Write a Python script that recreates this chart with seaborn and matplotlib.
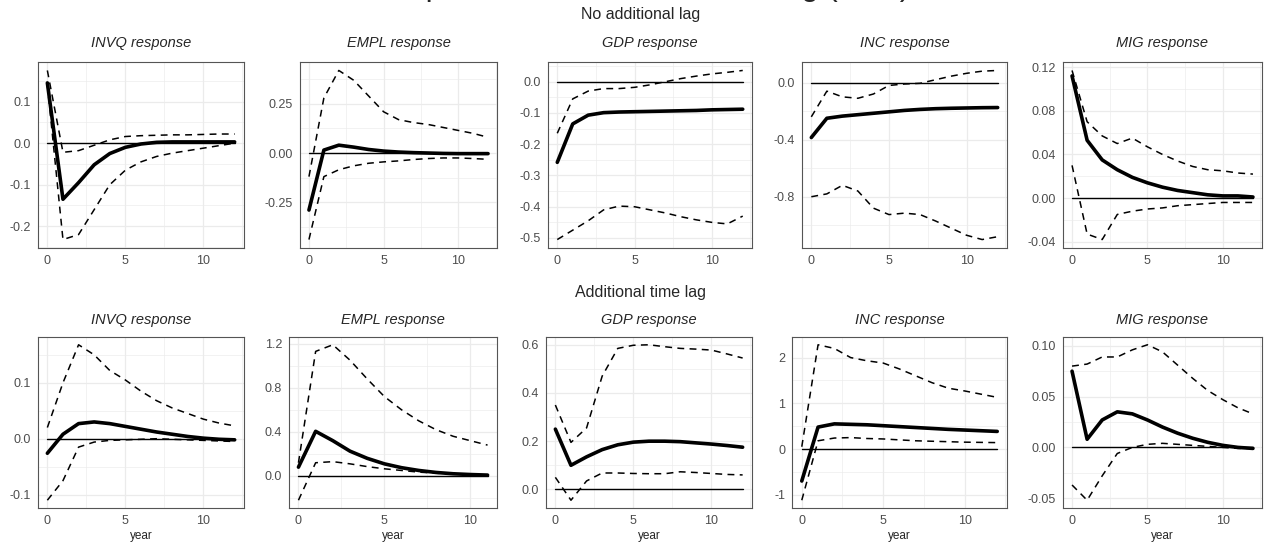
"""Impulse responses with and without an additional time lag."""

import matplotlib

matplotlib.use("Agg")

import matplotlib.pyplot as plt
import numpy as np
import seaborn as sns
from matplotlib.ticker import AutoMinorLocator, FixedLocator

years = list(range(13))
years_short = list(range(12))

panel_names = ["INVQ", "EMPL", "GDP", "INC", "MIG"]
row_titles = ["No additional lag", "Additional time lag"]

# ---- No additional lag ----
invq_mean_0 = [0.145, -0.135, -0.095, -0.052, -0.025, -0.010, -0.002, 0.002, 0.003, 0.003, 0.003, 0.003, 0.003]
invq_up_0 = [0.175, -0.022, -0.018, -0.005, 0.008, 0.016, 0.018, 0.019, 0.020, 0.020, 0.021, 0.022, 0.022]
invq_lo_0 = [0.140, -0.232, -0.220, -0.160, -0.100, -0.065, -0.045, -0.032, -0.024, -0.018, -0.012, -0.006, 0.000]

empl_mean_0 = [-0.290, 0.015, 0.040, 0.030, 0.018, 0.010, 0.005, 0.002, 0.000, -0.002, -0.003, -0.003, -0.003]
empl_up_0 = [-0.120, 0.280, 0.420, 0.370, 0.290, 0.210, 0.170, 0.155, 0.145, 0.130, 0.115, 0.100, 0.080]
empl_lo_0 = [-0.440, -0.120, -0.085, -0.065, -0.052, -0.045, -0.040, -0.033, -0.028, -0.025, -0.025, -0.028, -0.032]

gdp_mean_0 = [-0.258, -0.135, -0.107, -0.099, -0.097, -0.096, -0.095, -0.094, -0.093, -0.092, -0.090, -0.089, -0.088]
gdp_up_0 = [-0.165, -0.055, -0.030, -0.022, -0.022, -0.018, -0.010, 0.000, 0.010, 0.018, 0.025, 0.030, 0.036]
gdp_lo_0 = [-0.505, -0.475, -0.445, -0.410, -0.398, -0.400, -0.410, -0.420, -0.432, -0.442, -0.450, -0.455, -0.430]

inc_mean_0 = [-0.385, -0.250, -0.235, -0.225, -0.215, -0.205, -0.195, -0.188, -0.183, -0.180, -0.178, -0.176, -0.175]
inc_up_0 = [-0.240, -0.060, -0.100, -0.110, -0.080, -0.020, -0.010, -0.005, 0.020, 0.045, 0.065, 0.080, 0.085]
inc_lo_0 = [-0.800, -0.780, -0.720, -0.760, -0.880, -0.925, -0.915, -0.925, -0.970, -1.020, -1.070, -1.100, -1.080]

mig_mean_0 = [0.112, 0.053, 0.035, 0.026, 0.019, 0.014, 0.010, 0.007, 0.005, 0.003, 0.002, 0.002, 0.001]
mig_up_0 = [0.117, 0.070, 0.057, 0.050, 0.055, 0.047, 0.040, 0.034, 0.029, 0.026, 0.025, 0.023, 0.022]
mig_lo_0 = [0.030, -0.033, -0.038, -0.015, -0.012, -0.010, -0.009, -0.007, -0.006, -0.005, -0.004, -0.004, -0.004]

# ---- Additional time lag ----
invq_mean_1 = [-0.026, 0.008, 0.027, 0.030, 0.027, 0.022, 0.017, 0.012, 0.008, 0.004, 0.001, -0.001, -0.002]
invq_up_1 = [0.020, 0.100, 0.168, 0.150, 0.122, 0.105, 0.085, 0.068, 0.055, 0.045, 0.035, 0.028, 0.023]
invq_lo_1 = [-0.110, -0.075, -0.015, -0.006, -0.003, -0.002, -0.001, 0.000, -0.001, -0.002, -0.003, -0.004, -0.005]

empl_mean_1 = [0.080, 0.405, 0.320, 0.225, 0.160, 0.110, 0.075, 0.050, 0.032, 0.020, 0.013, 0.008]
empl_up_1 = [0.120, 1.130, 1.190, 1.050, 0.880, 0.720, 0.600, 0.500, 0.420, 0.360, 0.320, 0.280]
empl_lo_1 = [-0.220, 0.120, 0.130, 0.110, 0.085, 0.065, 0.050, 0.035, 0.025, 0.018, 0.012, 0.008]

gdp_mean_1 = [0.250, 0.100, 0.135, 0.165, 0.185, 0.196, 0.200, 0.200, 0.198, 0.193, 0.188, 0.182, 0.175]
gdp_up_1 = [0.350, 0.195, 0.255, 0.470, 0.585, 0.598, 0.600, 0.592, 0.585, 0.582, 0.578, 0.562, 0.545]
gdp_lo_1 = [0.050, -0.045, 0.035, 0.068, 0.068, 0.066, 0.065, 0.065, 0.073, 0.070, 0.066, 0.062, 0.060]

inc_mean_1 = [-0.700, 0.480, 0.550, 0.540, 0.530, 0.510, 0.490, 0.470, 0.450, 0.430, 0.415, 0.400, 0.385]
inc_up_1 = [0.050, 2.280, 2.200, 2.000, 1.930, 1.880, 1.750, 1.600, 1.450, 1.330, 1.270, 1.200, 1.130]
inc_lo_1 = [-1.120, 0.180, 0.240, 0.250, 0.230, 0.220, 0.200, 0.180, 0.170, 0.160, 0.150, 0.145, 0.140]

mig_mean_1 = [0.075, 0.008, 0.027, 0.035, 0.033, 0.027, 0.020, 0.014, 0.009, 0.005, 0.002, 0.000, -0.001]
mig_up_1 = [0.080, 0.082, 0.089, 0.089, 0.096, 0.101, 0.094, 0.081, 0.068, 0.056, 0.047, 0.039, 0.033]
mig_lo_1 = [-0.037, -0.052, -0.028, -0.006, 0.000, 0.003, 0.004, 0.003, 0.002, 0.001, 0.000, -0.001, -0.001]

# y tick values and labels per panel
yticks_0 = [[-0.2, -0.1, 0.0, 0.1], [-0.25, 0.0, 0.25], [-0.5, -0.4, -0.3, -0.2, -0.1, 0.0],
            [-0.8, -0.4, 0.0], [-0.04, 0.0, 0.04, 0.08, 0.12]]
ylabels_0 = [["-0.2", "-0.1", "0.0", "0.1"], ["-0.25", "0.00", "0.25"],
             ["-0.5", "-0.4", "-0.3", "-0.2", "-0.1", "0.0"], ["-0.8", "-0.4", "0.0"],
             ["-0.04", "0.00", "0.04", "0.08", "0.12"]]
yticks_1 = [[-0.1, 0.0, 0.1], [0.0, 0.4, 0.8, 1.2], [0.0, 0.2, 0.4, 0.6], [-1, 0, 1, 2], [-0.05, 0.0, 0.05, 0.10]]
ylabels_1 = [["-0.1", "0.0", "0.1"], ["0.0", "0.4", "0.8", "1.2"], ["0.0", "0.2", "0.4", "0.6"],
             ["-1", "0", "1", "2"], ["-0.05", "0.00", "0.05", "0.10"]]

W, H = 1268, 552
# panel boxes in pixels: (left, right) per panel, (top, bottom) per row
boxes_0 = [(38, 244), (300, 497), (548, 752), (802, 1007), (1063, 1262)]
boxes_1 = [(38, 244), (289, 497), (546, 752), (792, 1007), (1063, 1262)]
rows_px = [(62, 248), (337, 508)]

FONT = ["Liberation Sans", "DejaVu Sans"]


def draw_panel(ax, x, mean, up, lo, name, ticks, labels, bottom_row):
    zero = np.zeros(len(x))
    sns.lineplot(x=x, y=zero, ax=ax, color="black", linewidth=1.0)
    for band in (up, lo):
        sns.lineplot(x=x, y=band, ax=ax, color="black", linewidth=1.1, linestyle=(0, (4.5, 3.5)))
    sns.lineplot(x=x, y=mean, ax=ax, color="black", linewidth=2.6)

    ax.set_xticks([0, 5, 10])
    ax.yaxis.set_major_locator(FixedLocator(ticks))
    ax.set_yticklabels(labels)
    ax.xaxis.set_minor_locator(AutoMinorLocator(2))
    ax.yaxis.set_minor_locator(AutoMinorLocator(2))
    ax.grid(which="major", color="#EBEBEB", linewidth=0.9)
    ax.grid(which="minor", color="#EBEBEB", linewidth=0.45)
    ax.set_axisbelow(True)
    ax.tick_params(which="major", length=3, width=0.7, color="#333333", labelcolor="#4D4D4D",
                   labelsize=9, pad=2)
    ax.tick_params(which="minor", length=0)
    for spine in ax.spines.values():
        spine.set_color("#555555")
        spine.set_linewidth(0.8)
        spine.set_visible(True)
    ax.set_title(f"{name} response", fontstyle="italic", fontsize=10.5,
                 pad=11 if not bottom_row else 9.5, family=FONT)
    ax.set_ylabel("")
    ax.set_xlabel("year" if bottom_row else "", fontsize=8.5, labelpad=2, family=FONT)


def main() -> None:
    sns.set_style("white")
    plt.rcParams["font.family"] = FONT

    fig = plt.figure(figsize=(W / 100, H / 100), dpi=100)

    data_0 = [(invq_mean_0, invq_up_0, invq_lo_0), (empl_mean_0, empl_up_0, empl_lo_0),
              (gdp_mean_0, gdp_up_0, gdp_lo_0), (inc_mean_0, inc_up_0, inc_lo_0),
              (mig_mean_0, mig_up_0, mig_lo_0)]
    data_1 = [(invq_mean_1, invq_up_1, invq_lo_1), (empl_mean_1, empl_up_1, empl_lo_1),
              (gdp_mean_1, gdp_up_1, gdp_lo_1), (inc_mean_1, inc_up_1, inc_lo_1),
              (mig_mean_1, mig_up_1, mig_lo_1)]

    for row, (data, boxes, ticks, labels) in enumerate(
        [(data_0, boxes_0, yticks_0, ylabels_0), (data_1, boxes_1, yticks_1, ylabels_1)]
    ):
        top, bottom = rows_px[row]
        for i, ((mean, up, lo), (left, right)) in enumerate(zip(data, boxes)):
            ax = fig.add_axes([left / W, 1 - bottom / H, (right - left) / W, (bottom - top) / H])
            x = years if len(mean) == len(years) else years_short
            draw_panel(ax, x, mean, up, lo, panel_names[i], ticks[i], labels[i], row == 1)

    # row headings
    fig.text(0.505, 1 - 15 / H, row_titles[0], ha="center", va="center", fontsize=11.5)
    fig.text(0.505, 1 - 293 / H, row_titles[1], ha="center", va="center", fontsize=11.5)
    # overall title, cropped by the top edge of the image (only descenders show)
    fig.text(391 / W, 1 + 5 / H, "Impulse reactions with time lag (VAR)", ha="left",
             va="baseline", fontsize=22.5)

    fig.savefig("out.png", dpi=100)
    plt.close(fig)


if __name__ == "__main__":
    main()
